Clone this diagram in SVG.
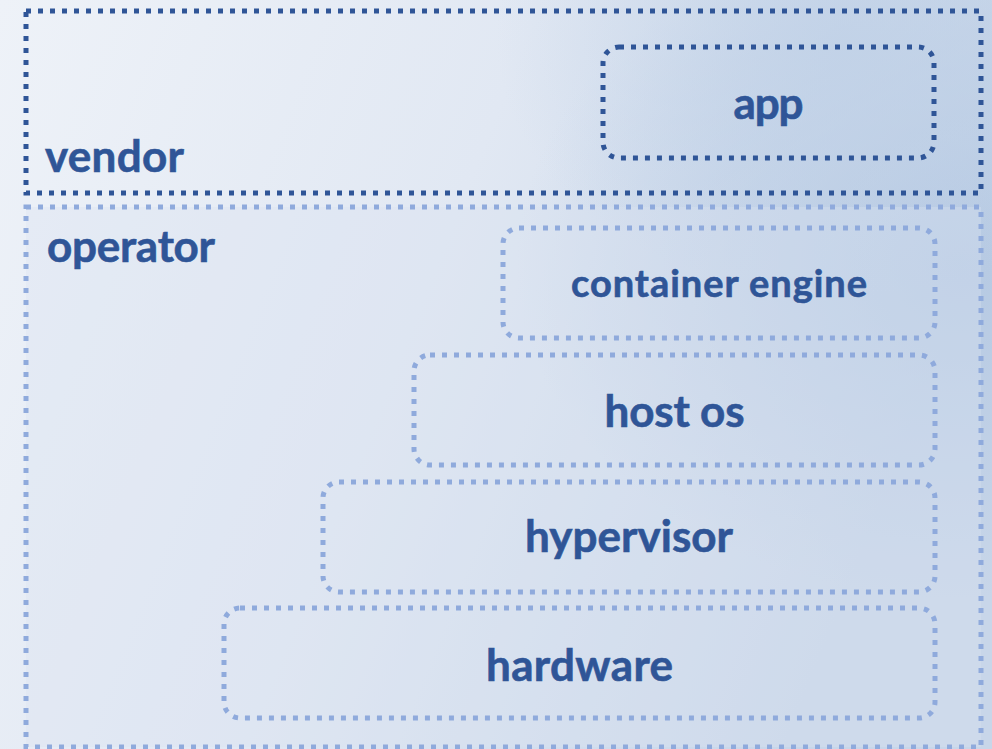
<svg xmlns="http://www.w3.org/2000/svg" width="992" height="749" viewBox="0 0 992 749">
<defs>
<linearGradient id="bg" x1="0" y1="0" x2="1" y2="0.3">
<stop offset="0" stop-color="#eef2f8"/>
<stop offset="0.5" stop-color="#e1e8f3"/>
<stop offset="1" stop-color="#c8d6e9"/>
</linearGradient>
<radialGradient id="blob" cx="0.97" cy="0.35" r="0.45">
<stop offset="0" stop-color="#b4c8e2" stop-opacity="0.9"/>
<stop offset="1" stop-color="#b4c8e2" stop-opacity="0"/>
</radialGradient>
<radialGradient id="blob2" cx="0.85" cy="0.05" r="0.35">
<stop offset="0" stop-color="#c0d1e7" stop-opacity="0.8"/>
<stop offset="1" stop-color="#c0d1e7" stop-opacity="0"/>
</radialGradient>
<style>
.dk{fill:none;stroke:#2f5597;stroke-width:5;stroke-dasharray:5 7}
.lt{fill:none;stroke:#8faadc;stroke-width:5;stroke-dasharray:5 7}
.t{font-family:Lato,"Liberation Sans",sans-serif;font-weight:bold;font-size:44px;fill:#2f5597;stroke:#2f5597;stroke-width:0.6}
.s{font-size:38px}
</style>
</defs>
<rect width="992" height="749" fill="url(#bg)"/>
<rect width="992" height="749" fill="url(#blob)"/>
<rect width="992" height="749" fill="url(#blob2)"/>
<rect x="26" y="207" width="955" height="540" fill="#d9e2f0" opacity="0.35"/>
<g id="vendor">
<rect class="dk" x="26" y="11" width="955" height="182"/>
<text class="t" x="45" y="172" textLength="139">vendor</text>
</g>
<g id="operator">
<rect class="lt" x="26" y="207" width="955" height="540"/>
<text class="t" x="47" y="262" textLength="168">operator</text>
</g>
<g id="app">
<rect class="dk" x="603" y="47" width="331" height="111" rx="16"/>
<text class="t" x="768.5" y="119" text-anchor="middle" textLength="70">app</text>
</g>
<g id="container-engine">
<rect class="lt" x="503" y="228" width="432" height="110" rx="16"/>
<text class="t s" x="719" y="297" text-anchor="middle" textLength="296">container engine</text>
</g>
<g id="host-os">
<rect class="lt" x="414" y="355" width="521" height="110" rx="16"/>
<text class="t" x="674.5" y="427" text-anchor="middle" textLength="140">host os</text>
</g>
<g id="hypervisor">
<rect class="lt" x="323" y="482" width="612" height="110" rx="16"/>
<text class="t" x="629" y="552" text-anchor="middle" textLength="208">hypervisor</text>
</g>
<g id="hardware">
<rect class="lt" x="224" y="608" width="711" height="110" rx="16"/>
<text class="t" x="579.5" y="681" text-anchor="middle" textLength="187">hardware</text>
</g>
<g id="connectors"/>
</svg>
